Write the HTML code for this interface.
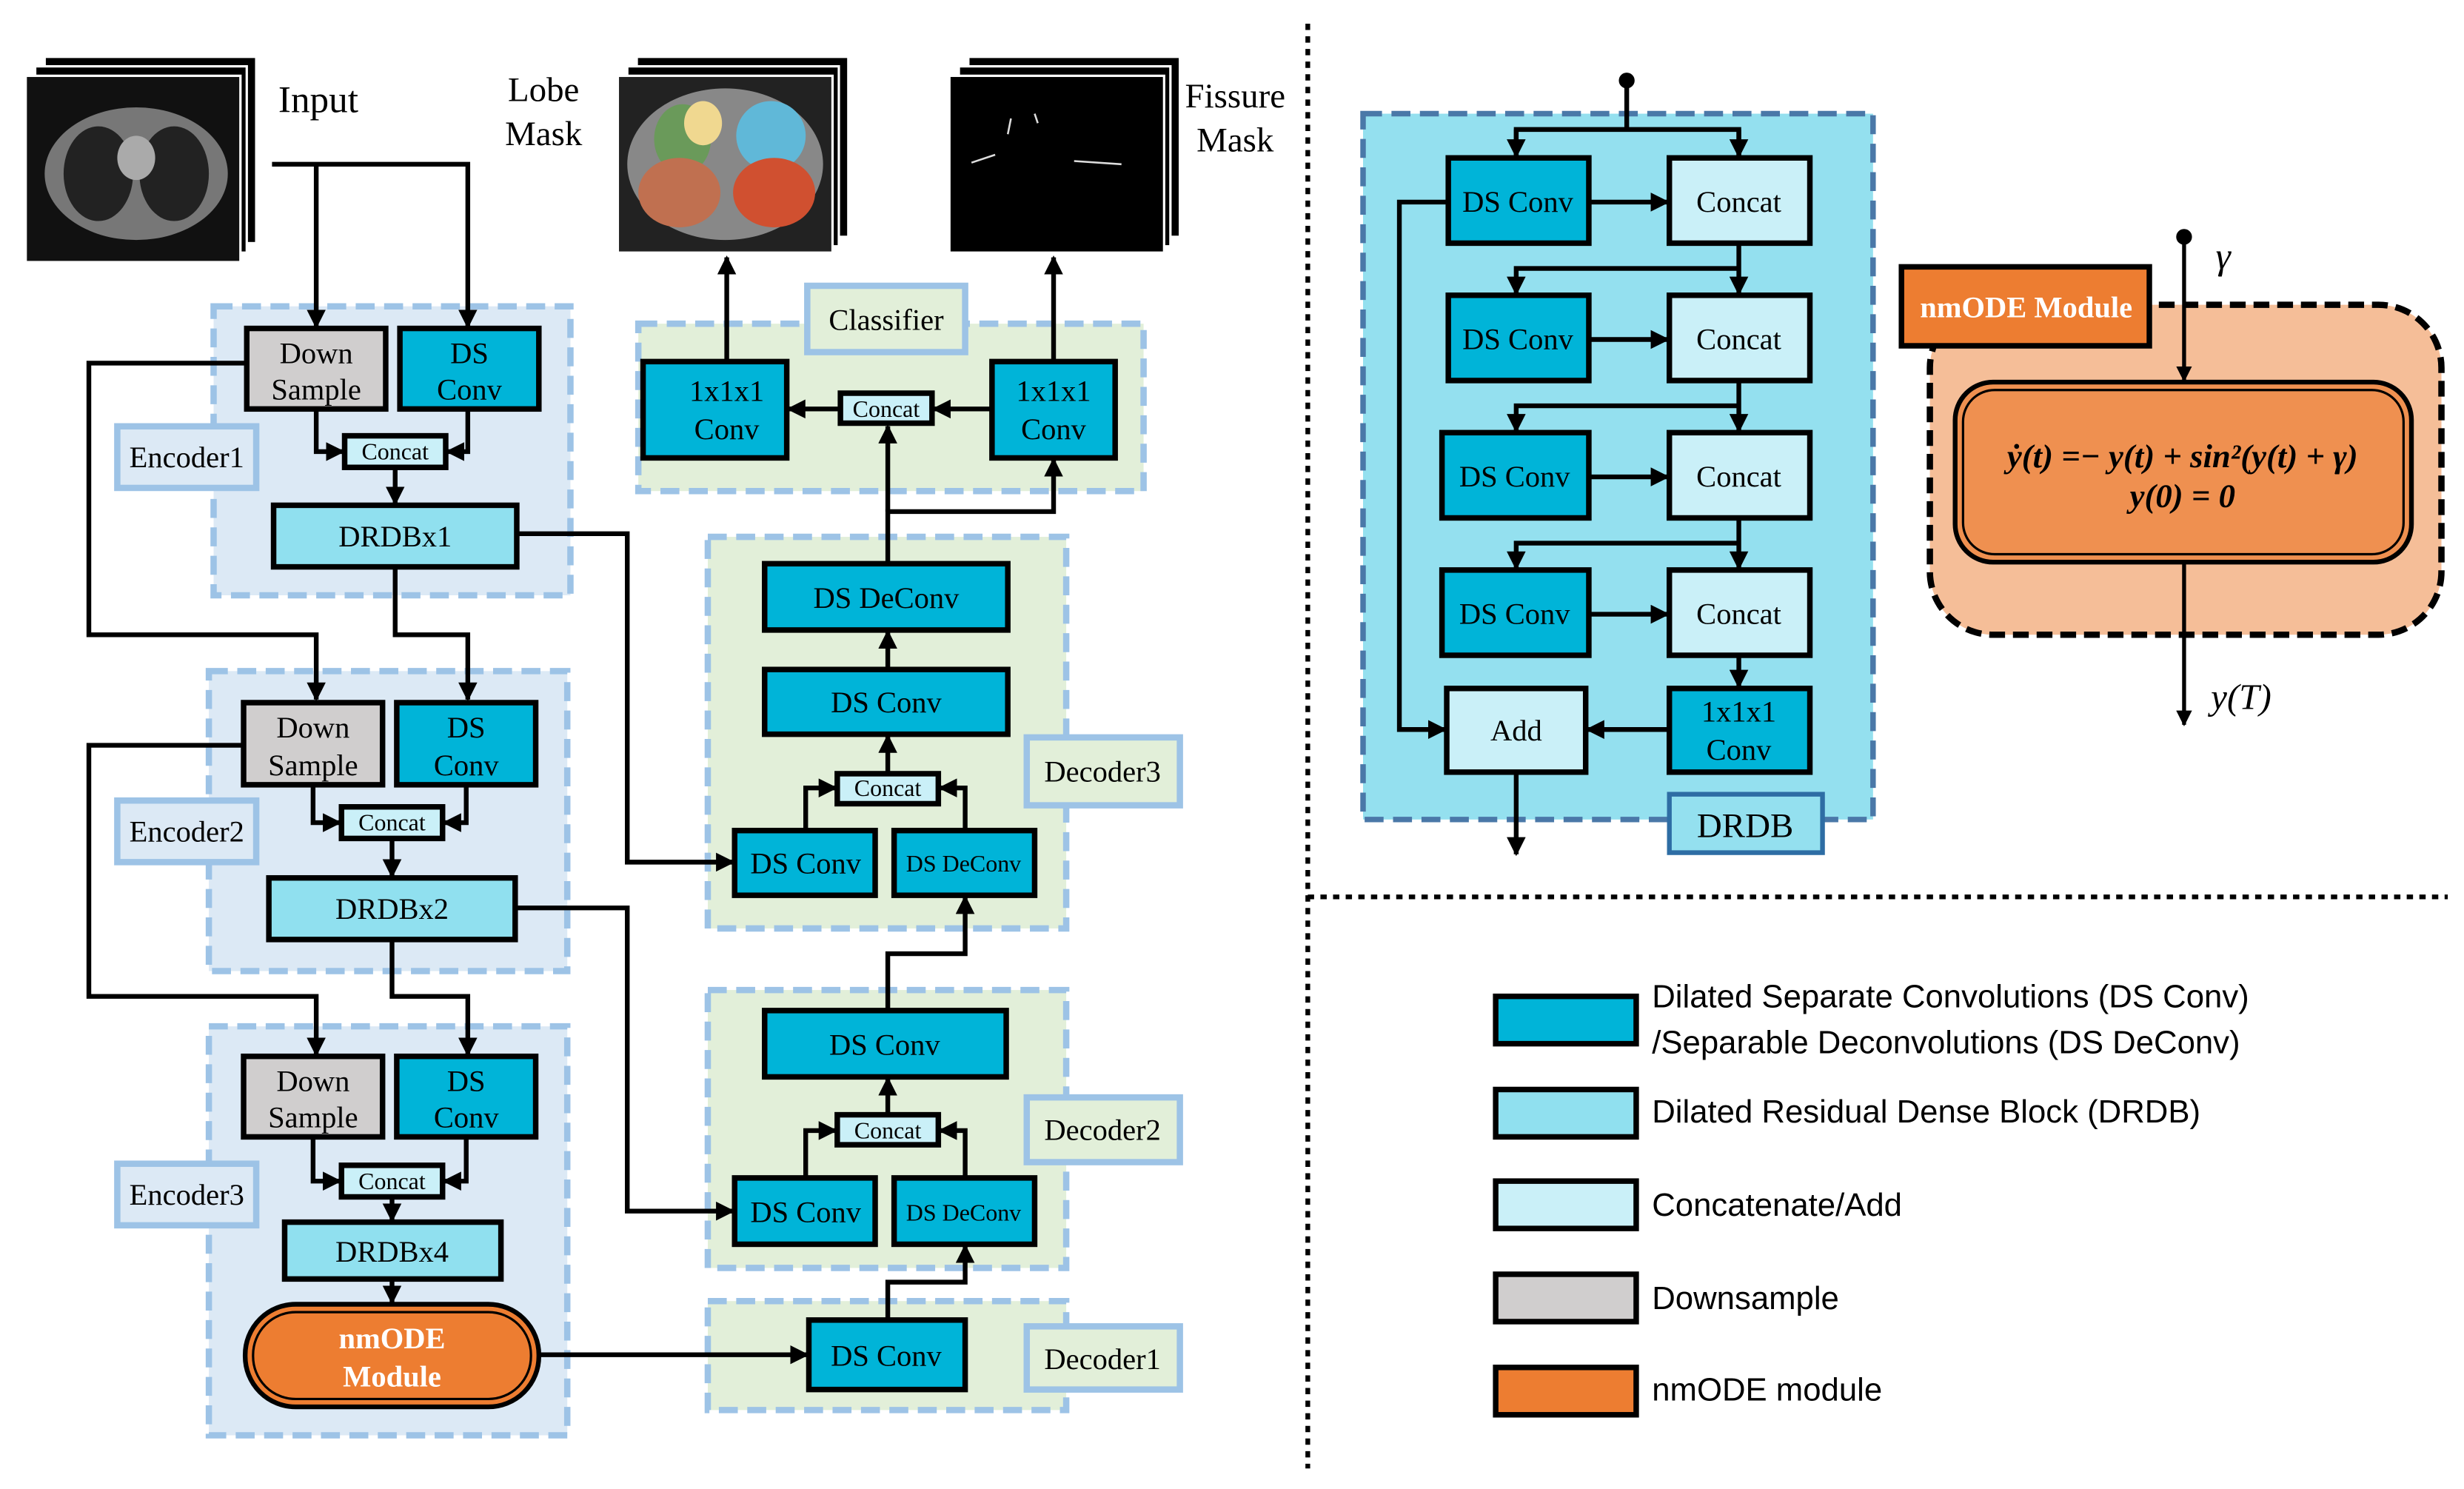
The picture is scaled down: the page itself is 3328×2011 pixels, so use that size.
<!DOCTYPE html>
<html><head><meta charset="utf-8"><style>
html,body{margin:0;padding:0;background:#fff;}
svg{display:block;}
text{font-family:"Liberation Serif",serif;}
.s{font-family:"Liberation Sans",sans-serif;}
</style></head><body>
<svg width="3328" height="2011" viewBox="0 0 1560 943" xmlns="http://www.w3.org/2000/svg">
<defs>
<marker id="a" viewBox="0 0 10 10" refX="9" refY="5" markerWidth="4" markerHeight="4" orient="auto" markerUnits="strokeWidth"><path d="M0,0L10,5L0,10z" fill="#000"/></marker>
</defs>
<rect width="1560" height="943" fill="#fff"/>

<g stroke="#fff" stroke-width="1.5">
<rect x="28" y="36" width="134" height="118" fill="#000"/>
<rect x="22" y="42" width="134" height="118" fill="#000"/>
<rect x="16" y="48" width="136" height="118" fill="#111"/>
</g>
<ellipse cx="86" cy="110" rx="58" ry="42" fill="#777"/>
<ellipse cx="62" cy="110" rx="22" ry="30" fill="#222"/>
<ellipse cx="110" cy="110" rx="22" ry="30" fill="#222"/>
<ellipse cx="86" cy="100" rx="12" ry="14" fill="#aaa"/>
<text x="176" y="71" font-size="24">Input</text>

<g stroke="#fff" stroke-width="1.5">
<rect x="403" y="36" width="134" height="114" fill="#000"/>
<rect x="397" y="42" width="134" height="114" fill="#000"/>
<rect x="391" y="48" width="136" height="112" fill="#222"/>
</g>
<ellipse cx="459" cy="104" rx="62" ry="48" fill="#888"/>
<ellipse cx="432" cy="88" rx="18" ry="22" fill="#6a9a5a"/>
<ellipse cx="445" cy="78" rx="12" ry="14" fill="#f0d890"/>
<ellipse cx="488" cy="86" rx="22" ry="22" fill="#60b8d8"/>
<ellipse cx="430" cy="122" rx="26" ry="22" fill="#c07050"/>
<ellipse cx="490" cy="122" rx="26" ry="22" fill="#d05030"/>
<text x="344" y="64" font-size="22" text-anchor="middle">Lobe</text>
<text x="344" y="92" font-size="22" text-anchor="middle">Mask</text>

<g stroke="#fff" stroke-width="1.5">
<rect x="613" y="36" width="134" height="114" fill="#000"/>
<rect x="607" y="42" width="134" height="114" fill="#000"/>
<rect x="601" y="48" width="136" height="112" fill="#000"/>
</g>
<path d="M615,103 L630,98 M638,85 L640,75 M655,72 L657,78 M680,102 L710,104" stroke="#ddd" stroke-width="1.2" fill="none"/>
<text x="782" y="68" font-size="22" text-anchor="middle">Fissure</text>
<text x="782" y="96" font-size="22" text-anchor="middle">Mask</text>

<g stroke="#9dc3e6" stroke-width="4" stroke-dasharray="12,6">
<rect x="135" y="194" width="226" height="183" fill="#dce9f5"/>
<rect x="132" y="425" width="227" height="190" fill="#dce9f5"/>
<rect x="132" y="650" width="227" height="259" fill="#dce9f5"/>
<rect x="404" y="205" width="320" height="106" fill="#e2efd9"/>
<rect x="448" y="340" width="227" height="248" fill="#e2efd9"/>
<rect x="448" y="627" width="227" height="176" fill="#e2efd9"/>
<rect x="448" y="824" width="227" height="69" fill="#e2efd9"/>
</g>
<g stroke="#9dc3e6" stroke-width="4" font-size="19">
<rect x="74" y="270" width="88" height="39" fill="#dce9f5"/>
<rect x="74" y="507" width="88" height="39" fill="#dce9f5"/>
<rect x="74" y="737" width="88" height="39" fill="#dce9f5"/>
<rect x="511" y="181" width="100" height="42" fill="#e2efd9"/>
<rect x="650" y="467" width="97" height="43" fill="#e2efd9"/>
<rect x="650" y="695" width="97" height="41" fill="#e2efd9"/>
<rect x="650" y="840" width="97" height="40" fill="#e2efd9"/>
</g>
<g font-size="19" text-anchor="middle">
<text x="118" y="296">Encoder1</text>
<text x="118" y="533">Encoder2</text>
<text x="118" y="763">Encoder3</text>
<text x="561" y="209">Classifier</text>
<text x="698" y="495">Decoder3</text>
<text x="698" y="722">Decoder2</text>
<text x="698" y="867">Decoder1</text>
</g>

<g stroke="#000" stroke-width="3" fill="none">
<path d="M172,104 H296 V207" marker-end="url(#a)"/>
<path d="M200,104 V207" marker-end="url(#a)"/>
<path d="M200,259 V286 H217" marker-end="url(#a)"/>
<path d="M296,259 V286 H283" marker-end="url(#a)"/>
<path d="M250,296 V319" marker-end="url(#a)"/>
<path d="M156,230 H56 V402 H200 V443" marker-end="url(#a)"/>
<path d="M250,359 V402 H296 V443" marker-end="url(#a)"/>
<path d="M327,338 H397 V546 H464" marker-end="url(#a)"/>
<path d="M198,497 V521 H215" marker-end="url(#a)"/>
<path d="M295,497 V521 H281" marker-end="url(#a)"/>
<path d="M248,531 V555" marker-end="url(#a)"/>
<path d="M154,472 H56 V631 H200 V668" marker-end="url(#a)"/>
<path d="M248,595 V631 H296 V668" marker-end="url(#a)"/>
<path d="M326,575 H397 V767 H464" marker-end="url(#a)"/>
<path d="M198,720 V748 H215" marker-end="url(#a)"/>
<path d="M295,720 V748 H281" marker-end="url(#a)"/>
<path d="M248,758 V773" marker-end="url(#a)"/>
<path d="M248,810 V825" marker-end="url(#a)"/>
<path d="M341,858 H511" marker-end="url(#a)"/>
<path d="M562,836 V812 H611 V789" marker-end="url(#a)"/>
<path d="M510,746 V716 H529" marker-end="url(#a)"/>
<path d="M611,746 V716 H595" marker-end="url(#a)"/>
<path d="M562,706 V683" marker-end="url(#a)"/>
<path d="M562,640 V604 H611 V568" marker-end="url(#a)"/>
<path d="M510,526 V499 H529" marker-end="url(#a)"/>
<path d="M611,526 V499 H595" marker-end="url(#a)"/>
<path d="M562,490 V466" marker-end="url(#a)"/>
<path d="M562,424 V400" marker-end="url(#a)"/>
<path d="M562,357 V324 H667 V291" marker-end="url(#a)"/>
<path d="M562,324 V270" marker-end="url(#a)"/>
<path d="M628,259 H591" marker-end="url(#a)"/>
<path d="M532,259 H499" marker-end="url(#a)"/>
<path d="M460,229 V163" marker-end="url(#a)"/>
<path d="M667,229 V163" marker-end="url(#a)"/>
</g>

<g stroke="#000" stroke-width="3.5">
<rect x="156" y="208" width="88" height="51" fill="#d0cece"/>
<rect x="253" y="208" width="88" height="51" fill="#00b4d8"/>
<rect x="218" y="276" width="64" height="20" fill="#caf0f8"/>
<rect x="173" y="320" width="154" height="39" fill="#90e0ef"/>
<rect x="154" y="445" width="88" height="52" fill="#d0cece"/>
<rect x="251" y="445" width="88" height="52" fill="#00b4d8"/>
<rect x="216" y="511" width="64" height="20" fill="#caf0f8"/>
<rect x="170" y="556" width="156" height="39" fill="#90e0ef"/>
<rect x="154" y="669" width="88" height="51" fill="#d0cece"/>
<rect x="251" y="669" width="88" height="51" fill="#00b4d8"/>
<rect x="216" y="738" width="64" height="20" fill="#caf0f8"/>
<rect x="180" y="774" width="137" height="36" fill="#90e0ef"/>
<rect x="512" y="836" width="99" height="44" fill="#00b4d8"/>
<rect x="484" y="640" width="153" height="42" fill="#00b4d8"/>
<rect x="530" y="706" width="64" height="19" fill="#caf0f8"/>
<rect x="465" y="746" width="89" height="42" fill="#00b4d8"/>
<rect x="566" y="746" width="89" height="42" fill="#00b4d8"/>
<rect x="484" y="357" width="154" height="42" fill="#00b4d8"/>
<rect x="484" y="424" width="154" height="41" fill="#00b4d8"/>
<rect x="530" y="490" width="64" height="19" fill="#caf0f8"/>
<rect x="465" y="526" width="89" height="41" fill="#00b4d8"/>
<rect x="566" y="526" width="89" height="41" fill="#00b4d8"/>
<rect x="407" y="229" width="91" height="61" fill="#00b4d8"/>
<rect x="628" y="229" width="78" height="61" fill="#00b4d8"/>
<rect x="532" y="249" width="58" height="19" fill="#caf0f8"/>
</g>
<rect x="155" y="826" width="186" height="65" rx="32" fill="#ed7d31" stroke="#000" stroke-width="3"/>
<rect x="160" y="831" width="176" height="55" rx="27" fill="none" stroke="#000" stroke-width="1.5"/>

<g font-size="19" text-anchor="middle">
<text x="200" y="230">Down</text><text x="200" y="253">Sample</text>
<text x="297" y="230">DS</text><text x="297" y="253">Conv</text>
<text x="250" y="291" font-size="15">Concat</text>
<text x="250" y="346">DRDBx1</text>
<text x="198" y="467">Down</text><text x="198" y="491">Sample</text>
<text x="295" y="467">DS</text><text x="295" y="491">Conv</text>
<text x="248" y="526" font-size="15">Concat</text>
<text x="248" y="582">DRDBx2</text>
<text x="198" y="691">Down</text><text x="198" y="714">Sample</text>
<text x="295" y="691">DS</text><text x="295" y="714">Conv</text>
<text x="248" y="753" font-size="15">Concat</text>
<text x="248" y="799">DRDBx4</text>
<text x="248" y="854" fill="#fff" font-weight="bold">nmODE</text>
<text x="248" y="878" fill="#fff" font-weight="bold">Module</text>
<text x="561" y="865">DS Conv</text>
<text x="560" y="668">DS Conv</text>
<text x="562" y="721" font-size="15">Concat</text>
<text x="510" y="774">DS Conv</text>
<text x="610" y="773" font-size="15">DS DeConv</text>
<text x="561" y="385">DS DeConv</text>
<text x="561" y="451">DS Conv</text>
<text x="562" y="504" font-size="15">Concat</text>
<text x="510" y="553">DS Conv</text>
<text x="610" y="552" font-size="15">DS DeConv</text>
<text x="460" y="254">1x1x1</text><text x="460" y="278">Conv</text>
<text x="667" y="254">1x1x1</text><text x="667" y="278">Conv</text>
<text x="561" y="264" font-size="15">Concat</text>
</g>

<line x1="828" y1="15" x2="828" y2="930" stroke="#000" stroke-width="3" stroke-dasharray="4,4"/>
<line x1="828" y1="568" x2="1550" y2="568" stroke="#000" stroke-width="3" stroke-dasharray="4,4"/>

<rect x="863" y="72" width="323" height="447" fill="#94e0ef" stroke="#4a78a8" stroke-width="3.5" stroke-dasharray="12,6"/>
<rect x="1057" y="503" width="97" height="37" fill="#94e0ef" stroke="#2e6da4" stroke-width="3"/>
<text x="1105" y="530" font-size="22" text-anchor="middle">DRDB</text>
<circle cx="1030" cy="51" r="5" fill="#000"/>
<g stroke="#000" stroke-width="3" fill="none">
<path d="M1030,51 V82"/>
<path d="M960,99 V82 H1101 V99" />
<path d="M960,82 V99" marker-end="url(#a)"/>
<path d="M1101,82 V99" marker-end="url(#a)"/>
<path d="M1006,128 H1056" marker-end="url(#a)"/>
<path d="M1101,154 V186" marker-end="url(#a)"/>
<path d="M1101,170 H960 V186" marker-end="url(#a)"/>
<path d="M1006,215 H1056" marker-end="url(#a)"/>
<path d="M1101,241 V273" marker-end="url(#a)"/>
<path d="M1101,257 H960 V273" marker-end="url(#a)"/>
<path d="M1006,302 H1056" marker-end="url(#a)"/>
<path d="M1101,328 V360" marker-end="url(#a)"/>
<path d="M1101,344 H960 V360" marker-end="url(#a)"/>
<path d="M1006,389 H1056" marker-end="url(#a)"/>
<path d="M1101,415 V435" marker-end="url(#a)"/>
<path d="M917,128 H886 V462 H915" marker-end="url(#a)"/>
<path d="M1057,462 H1005" marker-end="url(#a)"/>
<path d="M960,489 V541" marker-end="url(#a)"/>
</g>
<g stroke="#000" stroke-width="3.5">
<rect x="917" y="100" width="89" height="54" fill="#00b4d8"/>
<rect x="1057" y="100" width="89" height="54" fill="#caf0f8"/>
<rect x="917" y="187" width="89" height="54" fill="#00b4d8"/>
<rect x="1057" y="187" width="89" height="54" fill="#caf0f8"/>
<rect x="913" y="274" width="93" height="54" fill="#00b4d8"/>
<rect x="1057" y="274" width="89" height="54" fill="#caf0f8"/>
<rect x="913" y="361" width="93" height="54" fill="#00b4d8"/>
<rect x="1057" y="361" width="89" height="54" fill="#caf0f8"/>
<rect x="916" y="436" width="88" height="53" fill="#caf0f8"/>
<rect x="1057" y="436" width="89" height="53" fill="#00b4d8"/>
</g>
<g font-size="19" text-anchor="middle">
<text x="961" y="134">DS Conv</text><text x="1101" y="134">Concat</text>
<text x="961" y="221">DS Conv</text><text x="1101" y="221">Concat</text>
<text x="959" y="308">DS Conv</text><text x="1101" y="308">Concat</text>
<text x="959" y="395">DS Conv</text><text x="1101" y="395">Concat</text>
<text x="960" y="469">Add</text>
<text x="1101" y="457">1x1x1</text><text x="1101" y="481">Conv</text>
</g>

<rect x="1222" y="193" width="324" height="209" rx="40" fill="#f5be98" stroke="#000" stroke-width="4" stroke-dasharray="10,5"/>
<rect x="1204" y="169" width="157" height="50" fill="#ed7d31" stroke="#000" stroke-width="3.5"/>
<text x="1283" y="201" font-size="19" font-weight="bold" fill="#fff" text-anchor="middle">nmODE Module</text>
<rect x="1238" y="242" width="289" height="114" rx="24" fill="#ef9050" stroke="#000" stroke-width="3"/>
<rect x="1243" y="247" width="279" height="104" rx="20" fill="none" stroke="#000" stroke-width="1.5"/>
<circle cx="1383" cy="150" r="5" fill="#000"/>
<g stroke="#000" stroke-width="2.5" fill="none">
<path d="M1383,150 V241" marker-end="url(#a)"/>
<path d="M1383,356 V459" marker-end="url(#a)"/>
</g>
<text x="1403" y="170" font-size="24" font-style="italic">γ</text>
<text x="1400" y="449" font-size="23" font-style="italic">y(T)</text>
<text x="1382" y="296" font-size="21" font-weight="bold" font-style="italic" text-anchor="middle">ẏ(t) =− y(t) + sin²(y(t) + γ)</text>
<text x="1382" y="321" font-size="21" font-weight="bold" font-style="italic" text-anchor="middle">y(0) = 0</text>

<g stroke="#000" stroke-width="3.5">
<rect x="947" y="631" width="89" height="30" fill="#00b4d8"/>
<rect x="947" y="690" width="89" height="30" fill="#90e0ef"/>
<rect x="947" y="748" width="89" height="30" fill="#caf0f8"/>
<rect x="947" y="807" width="89" height="30" fill="#d0cece"/>
<rect x="947" y="866" width="89" height="30" fill="#ed7d31"/>
</g>
<g font-size="20.5">
<text x="1046" y="638" class="s">Dilated Separate Convolutions   (DS Conv)</text>
<text x="1046" y="667" class="s">/Separable Deconvolutions (DS DeConv)</text>
<text x="1046" y="711" class="s">Dilated Residual Dense Block (DRDB)</text>
<text x="1046" y="770" class="s">Concatenate/Add</text>
<text x="1046" y="829" class="s">Downsample</text>
<text x="1046" y="887" class="s">nmODE module</text>
</g>
</svg>
</body></html>
